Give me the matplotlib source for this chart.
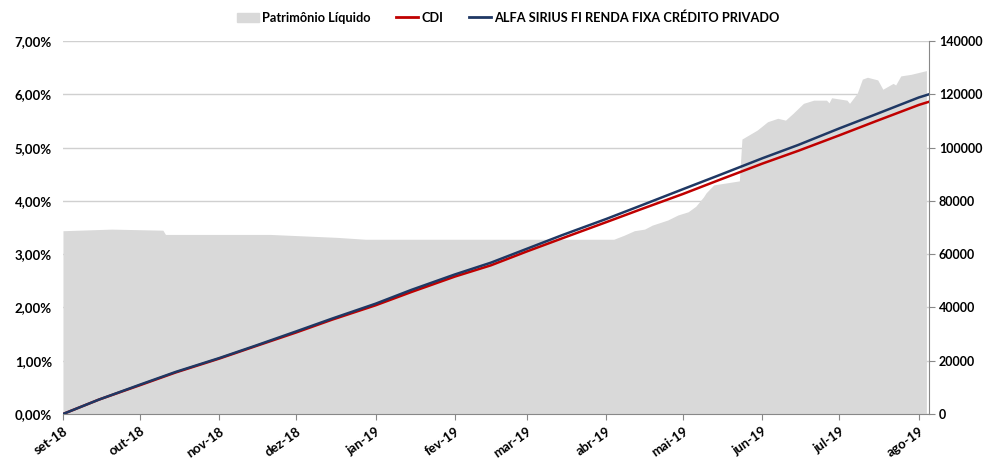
import matplotlib.pyplot as plt
from matplotlib.patches import Patch
from matplotlib.lines import Line2D
from matplotlib.ticker import FuncFormatter, MultipleLocator
import pandas as pd

plt.rcParams['font.family'] = ['Lato', 'DejaVu Sans']
plt.rcParams['font.weight'] = 'bold'

# Patrimônio Líquido (right axis)
pl_dates = ['2018-09-01', '2018-09-20', '2018-10-10', '2018-10-11', '2018-11-21', '2018-12-17',
            '2018-12-28', '2019-04-04', '2019-04-08', '2019-04-12', '2019-04-16', '2019-04-19',
            '2019-04-25', '2019-04-29', '2019-05-03', '2019-05-06', '2019-05-09', '2019-05-10',
            '2019-05-13', '2019-05-23', '2019-05-24', '2019-05-30', '2019-06-03', '2019-06-07',
            '2019-06-10', '2019-06-13', '2019-06-17', '2019-06-21', '2019-06-26', '2019-06-27',
            '2019-06-28', '2019-07-04', '2019-07-05', '2019-07-08', '2019-07-10', '2019-07-12',
            '2019-07-16', '2019-07-18', '2019-07-22', '2019-07-23', '2019-07-25', '2019-07-29',
            '2019-08-04']
pl_values = [68800, 69400, 69000, 67400, 67400, 66300,
             65600, 65600, 67100, 68800, 69400, 70900,
             72800, 74700, 75900, 78000, 81500, 83000,
             86000, 87500, 103200, 106600, 109700, 111000,
             110300, 112900, 116600, 117800, 117800, 116800,
             118700, 117800, 116600, 120400, 125700, 126400,
             125400, 121900, 124100, 123500, 126900, 127500,
             128900]

# cumulative returns (left axis, %)
ret_dates = ['2018-09-01', '2018-09-15', '2018-10-01', '2018-10-15', '2018-11-01', '2018-11-15',
             '2018-12-01', '2018-12-15', '2019-01-01', '2019-01-15', '2019-02-01', '2019-02-15',
             '2019-03-01', '2019-03-15', '2019-04-01', '2019-04-15', '2019-05-01', '2019-05-15',
             '2019-06-01', '2019-06-15', '2019-07-01', '2019-07-15', '2019-08-01', '2019-08-05']
fundo = [0.00, 0.27, 0.55, 0.79, 1.05, 1.28, 1.55, 1.79, 2.07, 2.33, 2.62, 2.84,
         3.10, 3.36, 3.66, 3.92, 4.22, 4.48, 4.80, 5.05, 5.36, 5.62, 5.94, 6.00]
cdi = [0.00, 0.27, 0.54, 0.78, 1.04, 1.27, 1.53, 1.77, 2.04, 2.29, 2.58, 2.79,
       3.05, 3.30, 3.60, 3.85, 4.13, 4.39, 4.70, 4.94, 5.23, 5.49, 5.80, 5.86]

month_labels = ['set-18', 'out-18', 'nov-18', 'dez-18', 'jan-19', 'fev-19',
                'mar-19', 'abr-19', 'mai-19', 'jun-19', 'jul-19', 'ago-19']

pl_dates = pd.to_datetime(pl_dates)
ret_dates = pd.to_datetime(ret_dates)
month_ticks = pd.date_range('2018-09-01', '2019-08-01', freq='MS')

fig = plt.figure(figsize=(9.87, 4.63), dpi=100)
ax = fig.add_axes([0.0638, 0.1058, 0.8774, 0.8056])
ax2 = ax.twinx()

grey = '#888888'

# area axis (right scale)
ax.fill_between(pl_dates, 0, pl_values, color='#d9d9d9', lw=0, zorder=1)
ax.set_ylim(0, 140000)
ax.yaxis.tick_right()
ax.yaxis.set_major_locator(MultipleLocator(20000))
ax.yaxis.grid(True, color='#d0d0d0', lw=1)
ax.set_axisbelow(True)
ax.tick_params(axis='y', direction='out', length=4, color=grey, labelsize=9, pad=3)
for s in ['top', 'left']:
    ax.spines[s].set_visible(False)
ax.spines['right'].set_color(grey)
ax.spines['bottom'].set_color(grey)

ax.set_xlim(pd.Timestamp('2018-09-01'), pd.Timestamp('2019-08-05'))
ax.set_xticks(month_ticks)
ax.set_xticklabels(month_labels, rotation=35, ha='right', rotation_mode='anchor', fontsize=9.5)
ax.tick_params(axis='x', direction='out', length=4, color=grey, pad=4)

# line axis (left scale)
ax2.plot(ret_dates, cdi, color='#c00000', lw=1.8, zorder=3)
ax2.plot(ret_dates, fundo, color='#1f3864', lw=1.8, zorder=4)
ax2.set_ylim(0, 7)
ax2.yaxis.tick_left()
ax2.yaxis.set_major_locator(MultipleLocator(1))
ax2.yaxis.set_major_formatter(FuncFormatter(lambda v, p: f'{v:.2f}%'.replace('.', ',')))
ax2.tick_params(axis='y', length=0, labelsize=9.5, pad=8)
for s in ax2.spines.values():
    s.set_visible(False)

handles = [Patch(color='#d9d9d9'),
           Line2D([], [], color='#c00000', lw=2),
           Line2D([], [], color='#1f3864', lw=2)]
fig.legend(handles, ['Patrimônio Líquido', 'CDI', 'ALFA SIRIUS FI RENDA FIXA CRÉDITO PRIVADO'],
           loc='center', bbox_to_anchor=(0.515, 0.962), ncol=3, frameon=False,
           fontsize=9.2, handlelength=1.7, handletextpad=0.25, columnspacing=2.0)

fig.savefig('out.png', dpi=100)
